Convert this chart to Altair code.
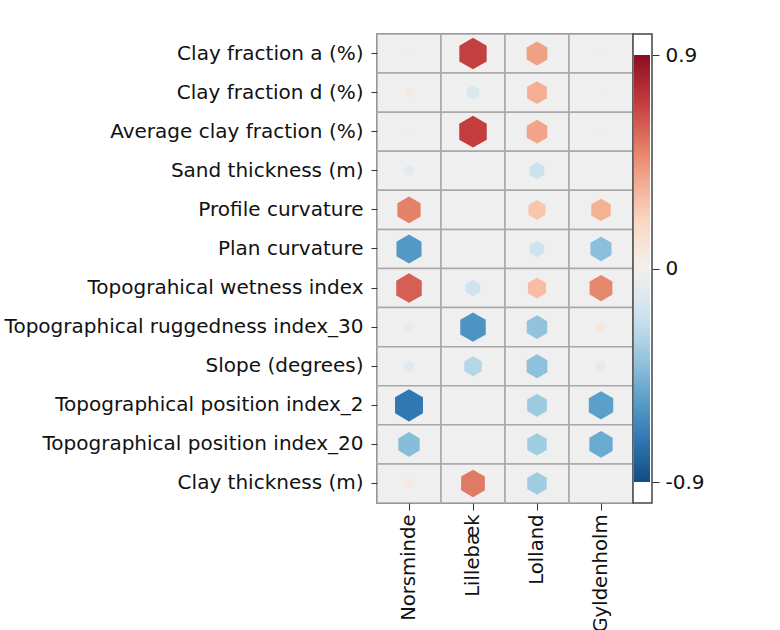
import altair as alt
import pandas as pd

rows = [
    "Clay fraction a (%)",
    "Clay fraction d (%)",
    "Average clay fraction (%)",
    "Sand thickness (m)",
    "Profile curvature",
    "Plan curvature",
    "Topograhical wetness index",
    "Topographical ruggedness index_30",
    "Slope (degrees)",
    "Topographical position index_2",
    "Topographical position index_20",
    "Clay thickness (m)",
]
sites = ["Norsminde", "Lillebæk", "Lolland", "Gyldenholm"]

norsminde = [-0.03, 0.06, 0.02, -0.09, 0.50, -0.58, 0.60, -0.07, -0.10, -0.72, -0.42, 0.07]
lillebaek = [0.69, -0.14, 0.70, 0.01, 0.01, 0.01, -0.19, -0.60, -0.28, 0.01, 0.01, 0.52]
lolland = [0.40, 0.36, 0.39, -0.20, 0.27, -0.19, 0.30, -0.39, -0.40, -0.36, -0.35, -0.35]
gyldenholm = [-0.02, -0.01, -0.02, 0.01, 0.35, -0.41, 0.48, 0.08, -0.08, -0.55, -0.50, 0.01]

cbar_ticks = [-0.9, 0, 0.9]

recs = []
for site, vals in zip(sites, [norsminde, lillebaek, lolland, gyldenholm]):
    for r, v in zip(rows, vals):
        recs.append({"site": site, "row": r, "value": v})
df = pd.DataFrame(recs)

FONT = "DejaVu Sans"
HEX = "M0,-1L0.866,-0.5L0.866,0.5L0,1L-0.866,0.5L-0.866,-0.5Z"

x_enc = alt.X(
    "site:N", sort=sites, title=None,
    scale=alt.Scale(paddingInner=0, paddingOuter=0),
    axis=alt.Axis(labelAngle=-90, labelAlign="right", labelBaseline="middle",
                  labelFontSize=19.6, labelFont=FONT, labelColor="#111",
                  tickSize=7, tickColor="#333", labelPadding=4, domain=False),
)
y_enc = alt.Y(
    "row:N", sort=rows, title=None,
    scale=alt.Scale(paddingInner=0, paddingOuter=0),
    axis=alt.Axis(labelFontSize=20, labelFont=FONT, labelColor="#111",
                  tickSize=6, tickColor="#333", labelPadding=8, labelLimit=500,
                  domain=False),
)

cells = alt.Chart(df).mark_rect(fill="#efefef", stroke="#a8a8a8", strokeWidth=1.5).encode(
    x=x_enc, y=y_enc
)

hexes = alt.Chart(df).transform_calculate(
    absval="abs(datum.value)"
).mark_point(shape=HEX, filled=True, opacity=1, strokeWidth=0).encode(
    x=alt.X("site:N", sort=sites),
    y=alt.Y("row:N", sort=rows),
    color=alt.Color(
        "value:Q",
        scale=alt.Scale(scheme="redblue", reverse=True, domain=[-0.9, 0.9]),
        legend=alt.Legend(
            orient="none", legendX=257, legendY=21, direction="vertical",
            gradientLength=427, gradientThickness=16, title=None,
            labelOpacity=0, labelFontSize=1, gradientStrokeWidth=0, zindex=1,
        ),
    ),
    size=alt.Size("absval:Q", scale=alt.Scale(domain=[0, 0.9], range=[0, 1300]), legend=None),
)

grid = alt.layer(cells, hexes)

box = alt.Chart(pd.DataFrame({"a": [0]})).mark_rect(
    fill="white", stroke="#444", strokeWidth=1.5
).encode(
    x=alt.value(256), x2=alt.value(275), y=alt.value(0), y2=alt.value(469)
)

ticks = alt.Chart(pd.DataFrame({"t": cbar_ticks})).mark_point(opacity=0).encode(
    x=alt.value(265),
    y=alt.Y(
        "t:Q", title=None,
        scale=alt.Scale(domain=[-0.9, 0.9], range=[448, 21]),
        axis=alt.Axis(orient="right", offset=19, values=cbar_ticks, grid=False,
                      domain=False, tickSize=7, tickColor="#333",
                      labelFontSize=20, labelFont=FONT, labelColor="#111",
                      labelPadding=6, labelExpr="toString(datum.value)"),
    ),
)

chart = alt.layer(grid, box, ticks).resolve_scale(
    y="independent"
).properties(
    width=256, height=469,
    autosize=alt.AutoSizeParams(type="none"),
    padding={"left": 377, "top": 34, "right": 147, "bottom": 127},
    background="white",
).configure_view(stroke="#333", strokeWidth=1.5)

chart.save("out.html", embed_options={"renderer": "svg", "actions": False})
